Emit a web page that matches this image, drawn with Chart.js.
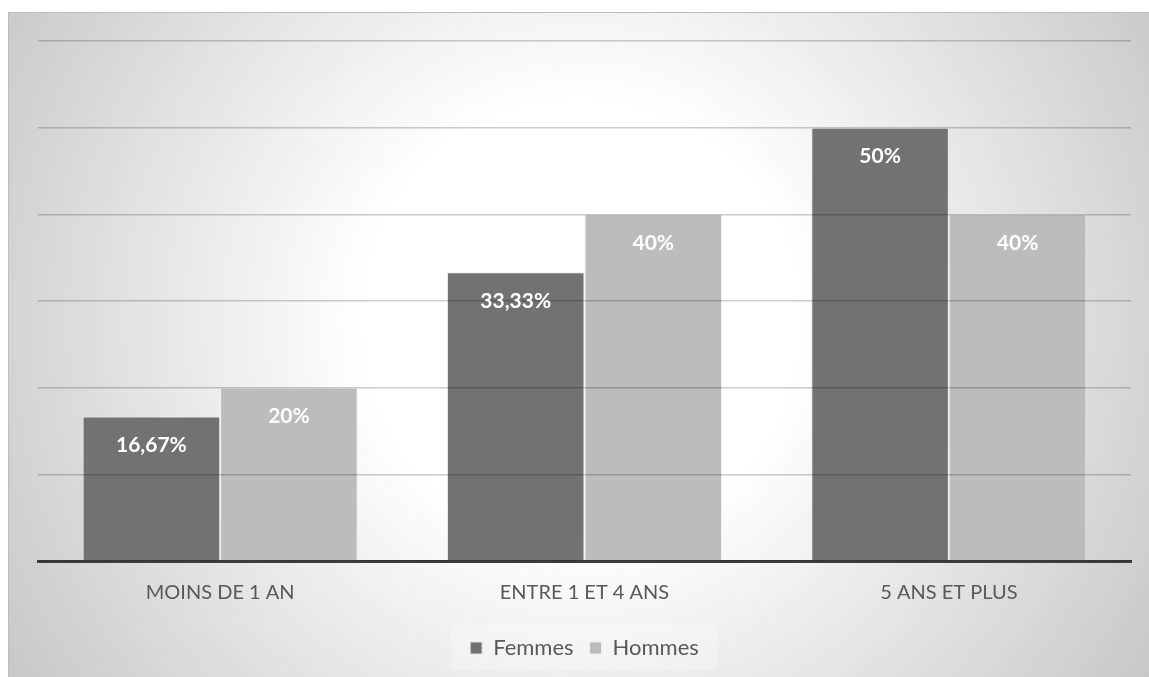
<!DOCTYPE html>
<html>
<head>
<meta charset="utf-8">
<script src="https://cdn.jsdelivr.net/npm/chart.js@4.4.1/dist/chart.umd.min.js"></script>
<style>
  html, body { margin: 0; padding: 0; background: #ffffff; }
  #wrap { position: relative; width: 1149px; height: 677px; }
</style>
</head>
<body>
<div id="wrap"><canvas id="chart" width="1149" height="677"></canvas></div>
<script>
// Ancienneté par sexe (en %)
const categories = ['MOINS DE 1 AN', 'ENTRE 1 ET 4 ANS', '5 ANS ET PLUS'];
const femmes = [16.67, 33.33, 50];
const hommes = [20, 40, 40];
const seriesNames = ['Femmes', 'Hommes'];
const yTicks = [0, 10, 20, 30, 40, 50, 60];

const FONT = 'Lato, "Open Sans", sans-serif';

function fmtPct(v) {
  return (Math.round(v * 100) / 100).toString().replace('.', ',') + '%';
}

// Radial grey background and frame behind the whole chart
const backgroundPlugin = {
  id: 'panelBackground',
  beforeDraw(chart) {
    const ctx = chart.ctx;
    const x0 = 8, y0 = 12, w = chart.width - x0, h = chart.height - y0;
    ctx.save();
    const g = ctx.createRadialGradient(580, 320, 0, 580, 320, 720);
    g.addColorStop(0, '#ffffff');
    g.addColorStop(0.3, '#ffffff');
    g.addColorStop(1, '#c2c2c2');
    ctx.fillStyle = g;
    ctx.fillRect(x0, y0, w, h);
    ctx.strokeStyle = '#bdbdbd';
    ctx.lineWidth = 1;
    ctx.strokeRect(x0 + 0.5, y0 + 0.5, w + 5, h + 5);
    // faint panel behind the legend
    const lg = chart.legend;
    if (lg) {
      ctx.fillStyle = 'rgba(255,255,255,0.25)';
      ctx.fillRect(lg.left + (lg.width - 266) / 2, 624, 266, 46);
    }
    ctx.restore();
  }
};

// Value labels inside the top of each bar
const valueLabels = {
  id: 'valueLabels',
  afterDraw(chart) {
    const ctx = chart.ctx;
    ctx.save();
    ctx.font = 'bold 21px ' + FONT;
    ctx.fillStyle = '#ffffff';
    ctx.textAlign = 'center';
    ctx.textBaseline = 'middle';
    chart.data.datasets.forEach((ds, i) => {
      const meta = chart.getDatasetMeta(i);
      meta.data.forEach((bar, j) => {
        ctx.fillText(fmtPct(ds.data[j]), bar.x, bar.y + 29);
      });
    });
    ctx.restore();
  }
};

new Chart(document.getElementById('chart'), {
  type: 'bar',
  data: {
    labels: categories,
    datasets: [
      {
        label: seriesNames[0],
        data: femmes,
        backgroundColor: '#727272',
        borderColor: 'rgba(235,235,235,0.9)',
        borderWidth: 1,
        categoryPercentage: 0.755,
        barPercentage: 1.0
      },
      {
        label: seriesNames[1],
        data: hommes,
        backgroundColor: '#bcbcbc',
        borderColor: 'rgba(240,240,240,0.9)',
        borderWidth: 1,
        categoryPercentage: 0.755,
        barPercentage: 1.0
      }
    ]
  },
  options: {
    responsive: false,
    animation: false,
    devicePixelRatio: 1,
    layout: { padding: { left: 38, right: 18, top: 41, bottom: 8 } },
    plugins: {
      tooltip: { enabled: false },
      legend: {
        position: 'bottom',
        labels: {
          boxWidth: 12,
          boxHeight: 12,
          padding: 16,
          color: '#595959',
          font: { family: FONT, size: 22 }
        }
      }
    },
    scales: {
      x: {
        grid: { display: false },
        border: { display: true, color: '#404040', width: 3 },
        ticks: {
          color: '#595959',
          padding: 12,
          font: { family: FONT, size: 20 }
        },
        afterFit(s) { s.height = 60; }
      },
      y: {
        min: yTicks[0],
        max: yTicks[yTicks.length - 1],
        afterBuildTicks(s) { s.ticks = yTicks.map(v => ({ value: v })); },
        grid: { color: 'rgba(0,0,0,0.2)', lineWidth: 1.5, drawTicks: false, z: 1 },
        border: { display: false },
        ticks: { display: false }
      }
    }
  },
  plugins: [backgroundPlugin, valueLabels]
});
</script>
</body>
</html>
